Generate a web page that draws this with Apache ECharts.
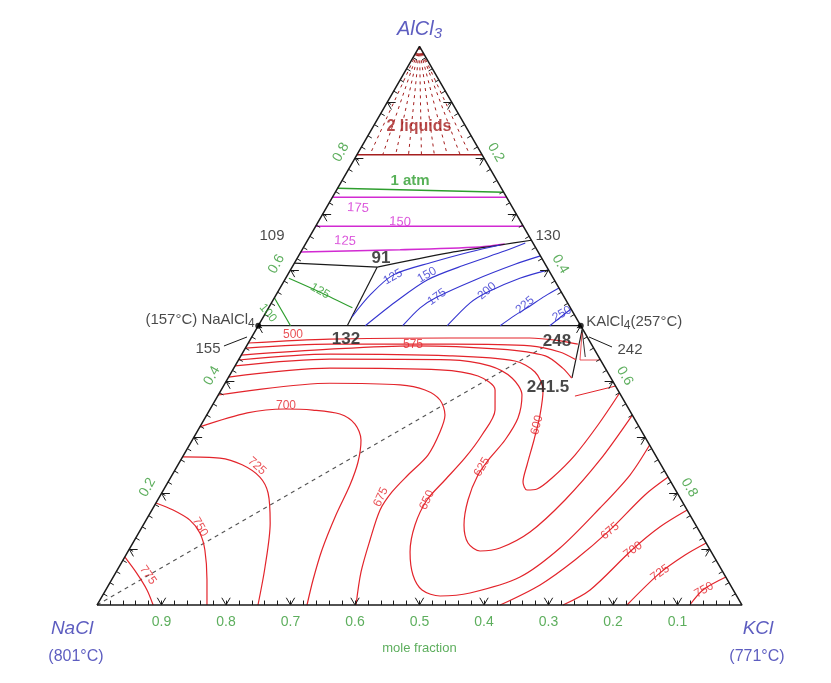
<!DOCTYPE html>
<html>
<head>
<meta charset="utf-8">
<script src="https://cdn.jsdelivr.net/npm/echarts/dist/echarts.min.js"></script>
<style>
  html, body { margin: 0; padding: 0; background: #fff; }
  #chart { width: 831px; height: 683px; }
</style>
</head>
<body>
<div id="chart"></div>
<script>
// NaCl–KCl–AlCl3 liquidus projection.
// Every composition is [x(AlCl3), x(KCl)] in mole fraction; x(NaCl) = 1 - both.

// ---- tick values ----
const bottomTickLabels = [0.9, 0.8, 0.7, 0.6, 0.5, 0.4, 0.3, 0.2, 0.1]; // x(NaCl) along NaCl–KCl
const leftTickLabels = [0.2, 0.4, 0.6, 0.8];                               // x(AlCl3) along NaCl–AlCl3
const rightTickLabels = [0.2, 0.4, 0.6, 0.8];                              // x(KCl) along KCl–AlCl3
const majorTicks = [0.1, 0.2, 0.3, 0.4, 0.5, 0.6, 0.7, 0.8, 0.9];

// ---- compounds ----
const naAlCl4 = [0.5, 0];
const kAlCl4 = [0.5, 0.5];

// ---- two-liquid region (tie lines run up to AlCl3) ----
const twoLiquidLimit = [[0.806, 0], [0.806, 0.194]];
const tieLineFeet = [0.02, 0.04, 0.06, 0.08, 0.10, 0.12, 0.14, 0.16, 0.175];
const oneAtm = [[0.746, 0], [0.739, 0.261]];

// ---- AlCl3-rich isotherms ----
const mag175 = [[0.730, 0], [0.730, 0.270]];
const mag150 = [[0.678, 0], [0.678, 0.322]];
const mag125 = [[0.632, 0], [0.636, 0.152], [0.641, 0.273], [0.646, 0.309]];

// ---- univariant lines ----
const line109to91 = [[0.612, 0], [0.605, 0.132]];
const line91to130 = [[0.605, 0.132], [0.630, 0.228], [0.6445, 0.303], [0.653, 0.347]];
const line91to132 = [[0.605, 0.132], [0.5, 0.138]];
const compoundJoin = [naAlCl4, kAlCl4];
const line248to241 = [[0.495, 0.505], [0.4064, 0.5332]];
const lineNear242 = [[0.492, 0.506], [0.444, 0.535]];
const leader155 = [[0.4637, -0.035], [0.4798, -0.0073]];
const leader242 = [[0.4619, 0.5675], [0.4798, 0.5229]];
const saltJoin = [[0, 0], [0.465, 0.465]];   // NaCl – KAlCl4 section

// ---- NaAlCl4 field ----
const green125 = [[0.585, 0.005], [0.56, 0.066], [0.532, 0.13]];
const green100 = [[0.55, 0], [0.525, 0.025], [0.5, 0.05]];

// ---- KAlCl4 field ----
const blue125 = [[0.5156, 0.1375], [0.555, 0.146], [0.591, 0.164], [0.614, 0.214], [0.632, 0.262], [0.6445, 0.303]];
const blue150 = [[0.5, 0.166], [0.542, 0.191], [0.582, 0.221], [0.61, 0.268], [0.634, 0.316], [0.648, 0.34]];
const blue175 = [[0.5, 0.224], [0.532, 0.235], [0.551, 0.251], [0.582, 0.295], [0.61, 0.343], [0.625, 0.375]];
const blue200 = [[0.5, 0.293], [0.541, 0.308], [0.56, 0.325], [0.585, 0.363], [0.6, 0.4]];
const blue225 = [[0.5, 0.375], [0.519, 0.389], [0.532, 0.401], [0.553, 0.418], [0.5675, 0.4325]];
const blue250 = [[0.5, 0.452], [0.517, 0.462], [0.53, 0.47]];

// ---- (Na,K)Cl solid-solution field ----
const red500 = [[0.469, 0], [0.476, 0.123], [0.478, 0.308], [0.478, 0.432], [0.473, 0.482], [0.467, 0.512]];
const red550 = [[0.46, 0], [0.467, 0.128], [0.467, 0.314], [0.464, 0.44], [0.453, 0.491], [0.439, 0.523]];
const red575 = [[0.4475, 0], [0.458, 0.132], [0.464, 0.258], [0.458, 0.396], [0.446, 0.472], [0.424, 0.51], [0.406, 0.533]];
const red600 = [[0.4386, 0], [0.449, 0.137], [0.446, 0.324], [0.4368, 0.4296], [0.4171, 0.4705], [0.3849, 0.4991],
  [0.34, 0.5168], [0.2954, 0.5298], [0.2506, 0.5414], [0.2202, 0.5504], [0.2059, 0.5637], [0.2077, 0.5784],
  [0.2274, 0.5917], [0.2685, 0.6068], [0.3222, 0.6156], [0.3795, 0.6205]];
const red625 = [[0.428, 0], [0.44, 0.141], [0.439, 0.328], [0.428, 0.395], [0.4064, 0.4402], [0.3759, 0.4709],
  [0.3348, 0.4853], [0.2954, 0.4849], [0.2632, 0.4777], [0.2327, 0.4743], [0.188, 0.4812], [0.1432, 0.4974],
  [0.111, 0.5197], [0.0967, 0.5455], [0.102, 0.5738], [0.1307, 0.606], [0.188, 0.6316], [0.2596, 0.65], [0.34, 0.66]];
const red650 = [[0.408, 0], [0.424, 0.149], [0.421, 0.3215], [0.41, 0.3857], [0.3849, 0.4247], [0.349, 0.4426],
  [0.3043, 0.4447], [0.2632, 0.4389], [0.2238, 0.4276], [0.188, 0.4176], [0.1432, 0.4214], [0.0949, 0.4379],
  [0.0537, 0.463], [0.0269, 0.4905], [0.0161, 0.5238], [0.0215, 0.5676], [0.0501, 0.6308], [0.102, 0.6668],
  [0.1736, 0.693], [0.2327, 0.71], [0.2864, 0.7136]];
const red675NaSide = [[0.376, 0], [0.397, 0.1625], [0.394, 0.273], [0.3849, 0.3161], [0.367, 0.3483], [0.34, 0.3695],
  [0.3097, 0.3769], [0.2685, 0.3789], [0.2327, 0.3658], [0.2023, 0.3562], [0.1701, 0.3538], [0.1164, 0.3651],
  [0.0591, 0.3798], [0, 0.4016]];
const red675KSide = [[0, 0.625], [0.036, 0.669], [0.081, 0.701], [0.134, 0.728], [0.197, 0.751], [0.229, 0.771]];
const red700NaSide = [[0.319, 0], [0.344, 0.061], [0.3509, 0.1161], [0.349, 0.16], [0.3419, 0.2057], [0.324, 0.238],
  [0.2954, 0.2616], [0.256, 0.2767], [0.2148, 0.2848], [0.1611, 0.2899], [0.0985, 0.2995], [0.0448, 0.3125], [0, 0.3256]];
const red700KSide = [[0, 0.7225], [0.027, 0.751], [0.0985, 0.78], [0.14, 0.803], [0.17, 0.83]];
const red725NaSide = [[0.265, 0], [0.263, 0.059], [0.251, 0.0995], [0.229, 0.138], [0.2005, 0.165], [0.147, 0.195],
  [0.068, 0.2265], [0, 0.2496]];
const red725KSide = [[0, 0.8217], [0.057, 0.844], [0.0895, 0.867], [0.111, 0.889]];
const red750NaSide = [[0.1826, 0], [0.17, 0.033], [0.152, 0.068], [0.129, 0.095], [0.0985, 0.118], [0.045, 0.148], [0, 0.1705]];
const red750KSide = [[0, 0.919], [0.027, 0.926], [0.05, 0.95]];
const red775 = [[0.086, 0], [0.057, 0.033], [0.027, 0.064], [0, 0.087]];
const redNearK1 = [[0.487, 0.5085], [0.4386, 0.5295], [0.4386, 0.5605]];
const redNearK2 = [[0.374, 0.554], [0.392, 0.608]];

// ---- isotherm labels: [text, composition, rotation] ----
const redLabels = [
  ['500', [0.4834, 0.0622], 0], ['575', [0.4654, 0.2572], 0], ['700', [0.3562, 0.1149], 0],
  ['725', [0.2488, 0.1237], -42], ['750', [0.1396, 0.0899], -60], ['775', [0.0537, 0.0522], -55],
  ['675', [0.1933, 0.3436], 65], ['650', [0.188, 0.4176], 65], ['625', [0.247, 0.4734], 60],
  ['600', [0.3222, 0.5211], 75], ['675', [0.1325, 0.7291], 40], ['700', [0.0985, 0.7817], 35],
  ['725', [0.0573, 0.8443], 35], ['750', [0.0269, 0.9277], 30]
];
const blueLabels = [
  ['125', [0.5872, 0.1653], 30], ['150', [0.5908, 0.2162], 30], ['175', [0.5514, 0.2514], 35],
  ['200', [0.5621, 0.3236], 40], ['225', [0.537, 0.3951], 40], ['250', [0.521, 0.4604], 30]
];
const magentaLabels = [['175', [0.7107, 0.0493], -3], ['150', [0.6856, 0.127], -3], ['125', [0.6516, 0.0587], -3]];
const greenLabels = [['125', [0.5621, 0.0646], -30], ['100', [0.5227, 0.0037], -50]];
const pointLabels = [['109', [0.6606, -0.059]], ['130', [0.6606, 0.3689]], ['155', [0.4583, -0.057]], ['242', [0.4565, 0.5981]]];
const invariantLabels = [['91', [0.6212, 0.1297]], ['132', [0.4762, 0.1479]], ['248', [0.4726, 0.4769]], ['241.5', [0.3903, 0.5041]]];

// ---- colours ----
const RED = '#e3242b', BLUE = '#3434d0', MAGENTA = '#d22ad2', GREEN = '#2e9e2e',
      DARKRED = '#a51e1e', INK = '#1a1a1a', TICKGREEN = '#359a35', VERTEX = '#3535b0';

const H = Math.sqrt(3) / 2;
function toXY(c) { return [c[1] + c[0] / 2, c[0] * H]; }

function curve(pts, color, width, opts) {
  return Object.assign({
    type: 'line', data: pts.map(toXY), symbol: 'none', showSymbol: false,
    smooth: 0.3, clip: false, silent: true, z: 2,
    lineStyle: { color: color, width: width }
  }, opts || {});
}
function straight(pts, color, width, opts) {
  return curve(pts, color, width, Object.assign({ smooth: false }, opts || {}));
}

// edge ticks: minor every 0.02 pointing inwards, V marks at every 0.1
function edgeTickSegments() {
  const segs = [];
  const d = 0.008, D = 0.013;
  const push = (p, q) => segs.push({ coords: [toXY(p), toXY(q)] });
  for (let i = 1; i < 50; i++) {
    const t = i / 50;
    push([0, t], [d, t - d / 2]);                 // NaCl–KCl edge
    push([t, 0], [t - d / 2, d]);                 // NaCl–AlCl3 edge
    push([t, 1 - t], [t - d / 2, 1 - t - d / 2]); // KCl–AlCl3 edge
  }
  majorTicks.forEach(t => {
    push([0, t], [D, t]); push([0, t], [D, t - D]);
    push([t, 0], [t, D]); push([t, 0], [t - D, D]);
    push([t, 1 - t], [t, 1 - t - D]); push([t, 1 - t], [t - D, 1 - t]);
  });
  return segs;
}

function textItem(text, comp, style) {
  return { value: toXY(comp), label: Object.assign({ show: true, formatter: text, position: 'inside' }, style) };
}

const labelData = [];
redLabels.forEach(l => labelData.push(textItem(l[0], l[1], { rotate: l[2], color: RED, fontSize: 12 })));
blueLabels.forEach(l => labelData.push(textItem(l[0], l[1], { rotate: l[2], color: BLUE, fontSize: 12 })));
magentaLabels.forEach(l => labelData.push(textItem(l[0], l[1], { rotate: l[2], color: MAGENTA, fontSize: 13 })));
greenLabels.forEach(l => labelData.push(textItem(l[0], l[1], { rotate: l[2], color: GREEN, fontSize: 12 })));
pointLabels.forEach(l => labelData.push(textItem(l[0], l[1], { color: INK, fontSize: 15 })));
invariantLabels.forEach(l => labelData.push(textItem(l[0], l[1], { color: INK, fontSize: 17, fontWeight: 'bold' })));
labelData.push(textItem('2 liquids', [0.8557, 0.0713], { color: DARKRED, fontSize: 16, fontWeight: 'bold' }));
labelData.push(textItem('1 atm', [0.759, 0.1058], { color: GREEN, fontSize: 15, fontWeight: 'bold' }));

// tick labels (offsets are in the rotated text frame)
bottomTickLabels.forEach(n => labelData.push(textItem(String(n), [0, 1 - n], { color: TICKGREEN, fontSize: 14, offset: [0, 17] })));
leftTickLabels.forEach(a => labelData.push(textItem(String(a), [a, 0], { color: TICKGREEN, fontSize: 14, rotate: 60, offset: [-2, -15] })));
rightTickLabels.forEach(k => labelData.push(textItem(String(k), [1 - k, k], { color: TICKGREEN, fontSize: 14, rotate: -60, offset: [1, -13] })));
labelData.push(textItem('mole fraction', [0, 0.5], { color: TICKGREEN, fontSize: 13, offset: [0, 43] }));

// vertex and compound names
const sub = { t: { fontSize: 15, color: INK }, s: { fontSize: 12, color: INK, padding: [7, 0, 0, 0] } };
labelData.push(textItem('{v|AlCl}{s|3}', [1, 0], {
  offset: [0, -17],
  rich: { v: { fontSize: 20, fontStyle: 'italic', color: VERTEX }, s: { fontSize: 15, fontStyle: 'italic', color: VERTEX, padding: [9, 0, 0, 0] } }
}));
labelData.push(textItem('NaCl', [0, 0], { color: VERTEX, fontSize: 19, fontStyle: 'italic', offset: [-25, 24] }));
labelData.push(textItem('(801°C)', [0, 0], { color: VERTEX, fontSize: 16, offset: [-21, 52] }));
labelData.push(textItem('KCl', [0, 1], { color: VERTEX, fontSize: 19, fontStyle: 'italic', offset: [16, 24] }));
labelData.push(textItem('(771°C)', [0, 1], { color: VERTEX, fontSize: 16, offset: [15, 52] }));
labelData.push(textItem('{t|(157°C) NaAlCl}{s|4}', naAlCl4, { position: 'left', distance: 3, offset: [0, -6], rich: sub }));
labelData.push(textItem('{t|KAlCl}{s|4}{t|(257°C)}', kAlCl4, { position: 'right', distance: 5, offset: [0, -4], rich: sub }));

const series = [];
// two-liquid tie lines
tieLineFeet.forEach(k => series.push(straight([[1, 0], [0.806, k]], DARKRED, 1, { lineStyle: { color: DARKRED, width: 1, type: [3, 4] } })));
series.push(straight(twoLiquidLimit, DARKRED, 1.6));
series.push(straight(oneAtm, GREEN, 1.6));
series.push(straight(mag175, MAGENTA, 1.6));
series.push(straight(mag150, MAGENTA, 1.6));
series.push(curve(mag125, MAGENTA, 1.6));
// univariant lines
series.push(straight(line109to91, INK, 1.2));
series.push(curve(line91to130, INK, 1.2));
series.push(straight(line91to132, INK, 1.2));
series.push(straight(compoundJoin, INK, 1.3));
series.push(straight(line248to241, INK, 1.2));
series.push(straight(lineNear242, INK, 0.9));
series.push(straight(leader155, INK, 1));
series.push(straight(leader242, INK, 1));
series.push(straight(saltJoin, '#555', 1.1, { lineStyle: { color: '#555', width: 1.1, type: [4, 4] } }));
// NaAlCl4 field
series.push(curve(green125, GREEN, 1.2));
series.push(curve(green100, GREEN, 1.2));
// KAlCl4 field
[blue125, blue150, blue175, blue200, blue225, blue250].forEach(c => series.push(curve(c, BLUE, 1.1)));
// (Na,K)Cl field
[red500, red550, red575, red600, red625, red650, red675NaSide, red675KSide, red700NaSide, red700KSide,
 red725NaSide, red725KSide, red750NaSide, red750KSide, red775].forEach(c => series.push(curve(c, RED, 1.2)));
series.push(straight(redNearK1, RED, 0.8));
series.push(straight(redNearK2, RED, 1));
// triangle outline and ticks
series.push(straight([[0, 0], [0, 1], [1, 0], [0, 0]], INK, 1.5, { z: 5 }));
series.push({
  type: 'lines', coordinateSystem: 'cartesian2d', silent: true, z: 5,
  lineStyle: { color: INK, width: 1, opacity: 1, curveness: 0 },
  data: edgeTickSegments()
});
// compound points
series.push({
  type: 'scatter', silent: true, z: 6, symbolSize: 6, itemStyle: { color: '#000' },
  data: [toXY(naAlCl4), toXY(kAlCl4)]
});
// text
series.push({
  type: 'scatter', silent: true, z: 10, symbolSize: 1, itemStyle: { color: 'rgba(0,0,0,0)' },
  label: { show: true, position: 'inside', fontFamily: 'Liberation Sans' },
  data: labelData
});

const chart = echarts.init(document.getElementById('chart'), null, { renderer: 'canvas' });
chart.setOption({
  animation: false,
  backgroundColor: '#fff',
  textStyle: { fontFamily: 'Liberation Sans' },
  grid: { left: 97, top: 605 - 645 * H, width: 645, height: 645 * H },
  xAxis: { type: 'value', min: 0, max: 1, show: false },
  yAxis: { type: 'value', min: 0, max: H, show: false },
  series: series
});
</script>
</body>
</html>
